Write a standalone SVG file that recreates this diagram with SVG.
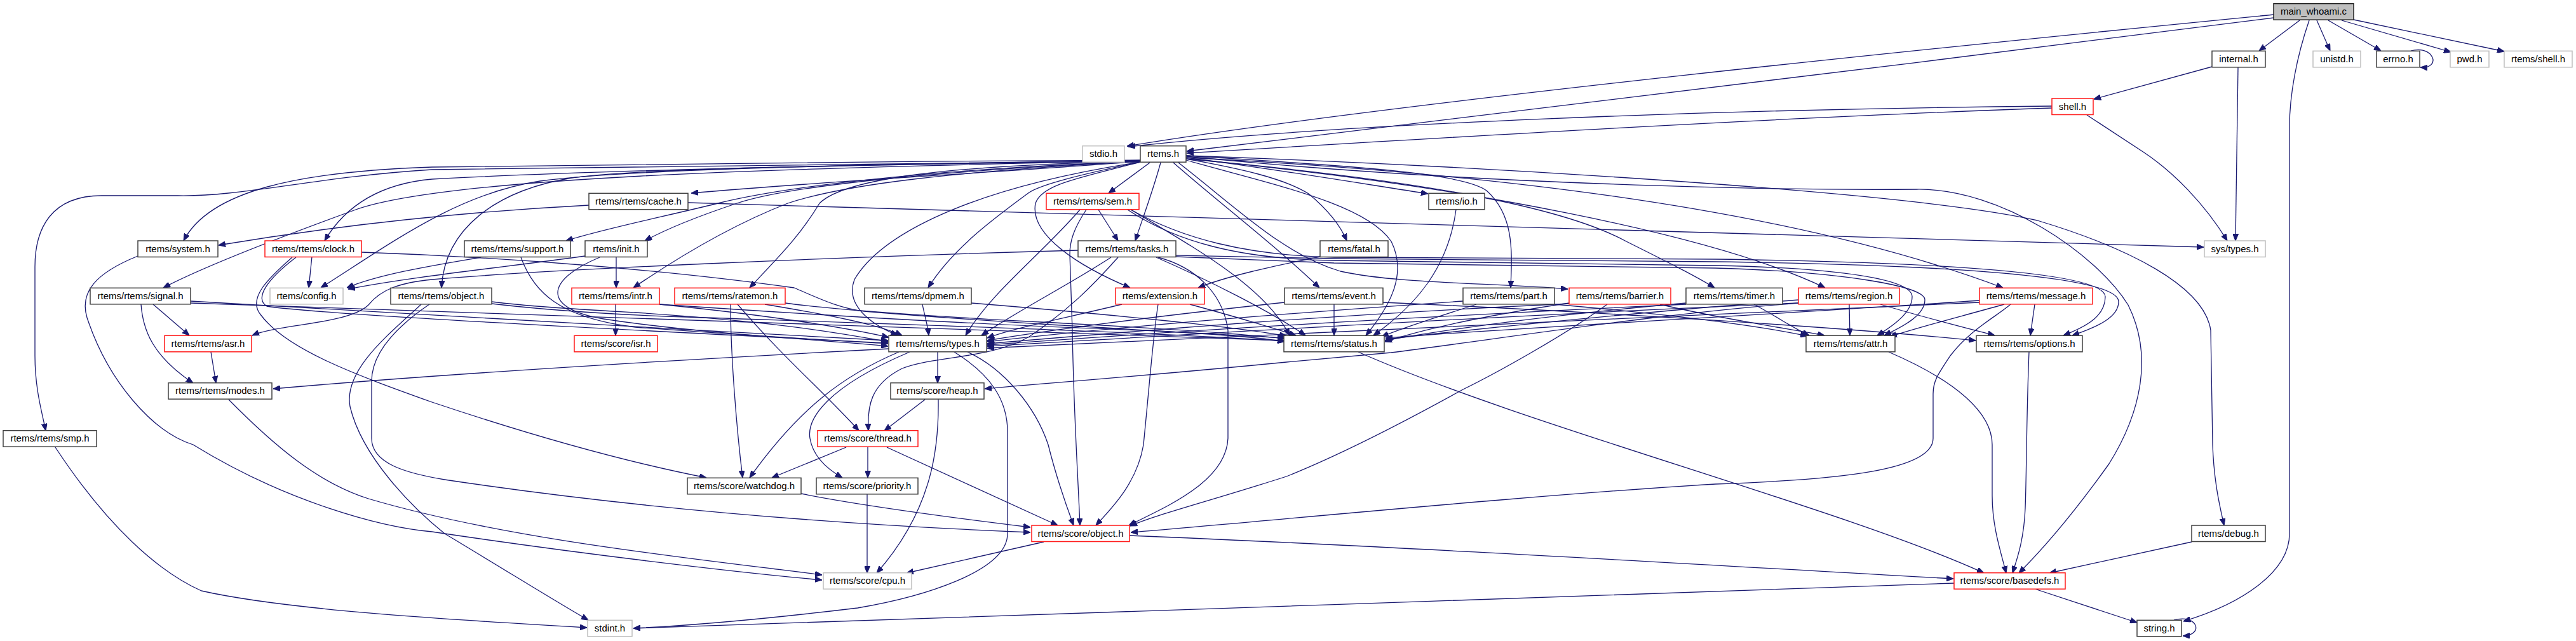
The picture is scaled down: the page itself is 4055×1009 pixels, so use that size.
<svg xmlns="http://www.w3.org/2000/svg" width="4055" height="1009" viewBox="0 0 4055 1009">
<style>
.n rect{fill:#fff;stroke:#404040;stroke-width:1.5}
.n.r rect{stroke:#ff1a1a}
.n.g rect{stroke:#bfbfbf}
.n.m rect{fill:#bfbfbf;stroke:#202020}
.n text{font-family:"Liberation Sans",Arial,sans-serif;font-size:15px;fill:#000;text-anchor:middle}
.e path{fill:none;stroke:#191970;stroke-width:1.3;marker-end:url(#a)}
</style>
<defs>
<marker id="a" viewBox="0 0 10 8" refX="10" refY="4" markerWidth="11" markerHeight="9" markerUnits="userSpaceOnUse" orient="auto"><path d="M0,0 L10,4 L0,8 z" fill="#191970" stroke="#191970" stroke-width="1"/></marker>
</defs>
<rect width="4055" height="1009" fill="#fff"/>
<g id="edges" class="e">
<path d="M3579,23 C3100,70 2200,160 1774,230"/>
<path d="M3579,28 C3000,100 2300,190 1868,238"/>
<path d="M3620,32 L3556,80"/>
<path d="M3647,32 L3668,80"/>
<path d="M3665,32 L3748,80"/>
<path d="M3686,32 L3858,82"/>
<path d="M3705,31 L3942,81"/>
<path d="M3635,32 C3615,90 3604,150 3604,200 L3604,840 C3604,900 3530,950 3437,978"/>
<path d="M3795,80 C3830,70 3845,108 3810,106"/>
<path d="M3482,105 L3296,156"/>
<path d="M3523,106 L3519,379"/>
<path d="M3230,167 C2700,172 2100,195 1776,231"/>
<path d="M3230,170 C2800,185 2300,215 1868,241"/>
<path d="M3285,181 L3375,240 C3420,270 3470,320 3506,379"/>
<path d="M1795,252 C1400,254 900,258 680,263 C470,270 330,300 289,379"/>
<path d="M1795,253 C1300,260 900,270 680,282 C590,290 540,330 511,379"/>
<path d="M1795,253 C1200,265 700,280 560,330 C450,370 320,420 257,453"/>
<path d="M1795,254 C1600,270 1300,285 1088,304"/>
<path d="M1795,254 C1500,265 1250,290 1130,320 C1050,340 950,360 891,379"/>
<path d="M1795,254 C1500,268 1250,290 1160,320 C1100,340 1050,360 1015,379"/>
<path d="M1795,254 C1500,270 1330,290 1240,320 C1150,355 1060,410 997,453"/>
<path d="M1795,254 C1500,260 1330,280 1290,320 C1260,370 1230,400 1180,453"/>
<path d="M1795,253 C1400,258 1000,265 900,280 C780,300 700,360 695,453"/>
<path d="M1795,253 C1400,258 1000,265 850,285 C720,305 620,380 505,453"/>
<path d="M1795,253 C1300,258 900,262 680,267 C500,278 380,310 280,308 L160,308 C80,308 55,360 55,420 L55,560 C55,610 65,645 72,678"/>
<path d="M1810,256 L1745,304"/>
<path d="M1827,256 C1815,300 1800,340 1787,379"/>
<path d="M1795,255 C1700,275 1640,290 1620,303 C1570,340 1500,390 1461,453"/>
<path d="M1795,255 C1700,280 1640,290 1630,320 C1620,370 1700,420 1779,453"/>
<path d="M1867,250 C1950,265 2020,280 2060,305 C2090,330 2110,355 2120,379"/>
<path d="M1867,248 C2000,265 2150,290 2248,305"/>
<path d="M1847,256 C1920,320 2000,380 2077,453"/>
<path d="M1867,245 C2100,260 2300,270 2340,300 C2385,340 2380,400 2378,453"/>
<path d="M1855,256 C1950,330 2020,400 2110,427 C2200,447 2350,445 2468,455"/>
<path d="M1867,250 C2200,280 2450,320 2560,380 C2630,415 2670,435 2699,453"/>
<path d="M1867,250 C2300,290 2700,370 2873,453"/>
<path d="M1867,248 C2300,270 2800,320 3153,453"/>
<path d="M1867,245 C2300,260 3000,300 3207,347 C3350,390 3470,450 3480,520 L3483,700 C3485,760 3495,800 3501,827"/>
<path d="M1867,246 C2300,290 2800,300 3017,298 C3150,296 3300,400 3350,480 C3390,560 3370,650 3320,730 C3270,800 3220,860 3178,902"/>
<path d="M1867,252 C2000,290 2150,320 2190,380 C2215,430 2190,480 2150,528"/>
<path d="M1795,255 C1500,300 1380,380 1345,440 C1330,480 1370,510 1413,528"/>
<path d="M927,323 C700,335 500,360 344,386"/>
<path d="M1083,319 L3469,389"/>
<path d="M1729,330 L1760,379"/>
<path d="M1710,330 C1690,360 1684,380 1684,400 L1688,520 C1690,650 1697,750 1700,827"/>
<path d="M1700,330 C1640,400 1560,460 1520,528"/>
<path d="M1780,330 C1880,390 1990,450 2030,528"/>
<path d="M1775,330 C1850,380 1950,408 2100,410 L2700,418 C2900,422 3010,440 3010,467 C3010,490 2985,510 2955,528"/>
<path d="M1780,330 C1860,375 1960,402 2100,405 L2700,408 C3000,412 3314,425 3314,467 C3314,495 3290,512 3248,528"/>
<path d="M1697,394 C1300,405 850,425 680,440 C630,445 600,455 580,480 C550,510 440,510 397,528"/>
<path d="M1749,405 C1680,450 1600,490 1545,528"/>
<path d="M1820,405 C1900,440 2000,490 2055,528"/>
<path d="M1760,405 C1720,450 1680,490 1620,530 C1560,565 1470,560 1420,580 C1370,605 1365,640 1367,678"/>
<path d="M1823,405 C1880,420 1925,460 1933,520 L1933,690 C1930,760 1830,800 1777,827"/>
<path d="M1851,404 C1950,408 2050,412 2100,414 L2700,422 C2900,428 3030,450 3030,472 C3030,495 3000,512 2966,528"/>
<path d="M1851,402 C1950,404 2050,406 2100,407 L2700,412 C3000,416 3335,430 3335,475 C3335,500 3300,515 3262,528"/>
<path d="M491,404 L486,453"/>
<path d="M460,405 C420,440 390,470 410,495 C450,550 560,590 680,633 C850,690 1000,730 1112,752"/>
<path d="M466,405 C420,440 400,470 420,482 C500,495 1000,520 1398,540"/>
<path d="M569,397 C800,405 1050,425 1250,453 C1290,470 1320,485 1360,490 C1600,510 1850,522 2022,532"/>
<path d="M757,405 C700,415 600,430 546,453"/>
<path d="M820,405 C840,460 880,500 1000,515 C1200,530 1300,535 1398,541"/>
<path d="M921,403 C800,420 650,435 548,455"/>
<path d="M970,404 L970,453"/>
<path d="M944,405 C860,440 850,485 950,502 C1100,525 1300,535 1398,545"/>
<path d="M2078,404 C2000,420 1930,435 1886,453"/>
<path d="M241,479 L298,528"/>
<path d="M222,479 C225,520 240,560 304,603"/>
<path d="M300,474 C500,486 1000,515 1398,536"/>
<path d="M300,477 C600,492 1500,515 2022,536"/>
<path d="M676,479 C660,490 585,540 585,600 L585,690 C585,730 640,745 700,755 C1000,800 1300,825 1622,838"/>
<path d="M663,479 C620,520 540,580 551,640 C570,720 650,800 700,840 C800,900 880,950 926,976"/>
<path d="M774,475 C830,482 900,486 1000,492 C1200,505 1300,520 1398,538"/>
<path d="M774,478 C850,487 950,494 1050,498 C1400,510 1800,522 2022,537"/>
<path d="M969,479 L969,528"/>
<path d="M1038,479 C1200,495 1330,515 1399,531"/>
<path d="M1038,479 C1200,490 1500,510 1800,520 C1900,525 1980,530 2022,538"/>
<path d="M1150,479 C1150,560 1160,680 1169,752"/>
<path d="M1161,479 C1230,560 1300,620 1352,678"/>
<path d="M1204,479 C1300,495 1380,510 1420,528"/>
<path d="M1236,477 C1300,486 1400,494 1600,505 C1800,515 1950,525 2022,533"/>
<path d="M1452,479 C1455,495 1460,510 1462,528"/>
<path d="M1529,477 C1750,495 1950,515 2025,529"/>
<path d="M1823,479 C1815,530 1810,600 1800,700 C1790,760 1750,800 1725,827"/>
<path d="M1766,479 C1680,500 1600,515 1554,532"/>
<path d="M1873,479 C1950,500 2000,515 2040,528"/>
<path d="M2100,479 L2100,528"/>
<path d="M2022,476 C1800,500 1650,520 1554,536"/>
<path d="M2177,476 C2500,490 2900,515 3110,536"/>
<path d="M2447,479 C2650,497 2780,515 2845,529"/>
<path d="M2324,479 C2260,500 2210,515 2175,530"/>
<path d="M2303,474 C2000,495 1750,515 1554,538"/>
<path d="M2530,479 C2460,530 2350,590 2303,613 C2200,670 2100,720 2025,750 C1900,790 1820,810 1779,828"/>
<path d="M2613,479 C2700,500 2800,515 2872,528"/>
<path d="M2470,477 C2350,495 2250,515 2180,538"/>
<path d="M2470,478 C2100,495 1800,520 1554,541"/>
<path d="M2654,477 C2450,495 2300,515 2180,536"/>
<path d="M2654,479 C2200,500 1800,525 1554,543"/>
<path d="M2761,479 C2800,500 2820,515 2848,528"/>
<path d="M2911,479 L2912,528"/>
<path d="M2960,479 C3030,500 3090,515 3140,528"/>
<path d="M2831,477 C2600,495 2350,535 2190,555 L2025,570 C1800,592 1650,603 1550,612"/>
<path d="M2831,472 C2600,490 2350,515 2181,534"/>
<path d="M2831,477 C2300,500 1900,525 1554,545"/>
<path d="M3155,479 C3080,500 3020,515 2975,530"/>
<path d="M3203,479 L3196,528"/>
<path d="M3165,479 C3140,500 3100,520 3070,560 C3050,590 3043,600 3043,620 L3043,690 C3043,740 2900,755 2700,762 C2400,780 2000,820 1780,838"/>
<path d="M3116,473 C2800,495 2400,515 2181,532"/>
<path d="M3116,476 C2600,500 2000,525 1554,548"/>
<path d="M2292,330 C2280,420 2230,480 2162,528"/>
<path d="M332,554 L340,603"/>
<path d="M1399,549 C1000,570 680,590 430,612"/>
<path d="M1476,554 L1476,603"/>
<path d="M1415,554 C1330,590 1260,640 1180,752"/>
<path d="M1432,554 C1300,610 1270,660 1275,690 C1280,720 1305,740 1326,752"/>
<path d="M1523,554 C1580,580 1630,640 1650,700 C1665,760 1680,800 1690,827"/>
<path d="M1502,554 C1560,590 1586,630 1586,680 L1586,840 C1586,900 1450,940 1350,957 C1200,975 1080,985 997,989"/>
<path d="M1456,629 L1392,678"/>
<path d="M1477,629 C1478,700 1470,800 1380,902"/>
<path d="M1366,704 L1366,752"/>
<path d="M1332,704 L1215,752"/>
<path d="M1396,704 L1665,827"/>
<path d="M1261,777 C1350,795 1500,815 1622,830"/>
<path d="M1365,778 L1365,902"/>
<path d="M1643,853 L1427,902"/>
<path d="M1778,843 C2200,860 2700,890 3075,911"/>
<path d="M360,629 C430,700 500,760 580,785 C800,850 1100,880 1294,905"/>
<path d="M217,403 C150,430 125,460 137,500 C170,600 240,680 304,700 C450,790 600,830 680,837 C900,870 1150,900 1294,913"/>
<path d="M87,704 C170,830 250,900 317,930 C450,960 700,975 924,988"/>
<path d="M3450,853 C3350,875 3280,890 3226,902"/>
<path d="M2973,554 C3080,600 3136,650 3136,700 L3136,780 C3136,830 3150,870 3158,902"/>
<path d="M3194,554 C3190,650 3190,750 3188,800 C3186,850 3175,880 3168,902"/>
<path d="M2138,554 C2400,670 2900,800 3123,902"/>
<path d="M3076,918 C2500,940 1500,970 997,989"/>
<path d="M3203,927 L3364,980"/>
<path d="M3422,976 C3460,966 3470,1000 3436,1001"/>
</g>
<g id="n_main" class="n m"><rect x="3579" y="5.7" width="126" height="25.5"/><text x="3642" y="23.4">main_whoami.c</text></g>
<g id="n_internal" class="n"><rect x="3482" y="80.3" width="84" height="25.5"/><text x="3524" y="98">internal.h</text></g>
<g id="n_unistd" class="n g"><rect x="3641" y="80.3" width="75" height="25.5"/><text x="3678.5" y="98">unistd.h</text></g>
<g id="n_errno" class="n"><rect x="3741" y="80.3" width="68" height="25.5"/><text x="3775" y="98">errno.h</text></g>
<g id="n_pwd" class="n g"><rect x="3857" y="80.3" width="61" height="25.5"/><text x="3887.5" y="98">pwd.h</text></g>
<g id="n_rshell" class="n g"><rect x="3942" y="80.3" width="107" height="25.5"/><text x="3995.5" y="98">rtems/shell.h</text></g>
<g id="n_shell" class="n r"><rect x="3230" y="155" width="65" height="25.5"/><text x="3262.5" y="172.7">shell.h</text></g>
<g id="n_stdio" class="n g"><rect x="1704" y="229.7" width="66" height="25.5"/><text x="1737" y="247.4">stdio.h</text></g>
<g id="n_rtems" class="n"><rect x="1795" y="229.7" width="72" height="25.5"/><text x="1831" y="247.4">rtems.h</text></g>
<g id="n_cache" class="n"><rect x="927" y="304.3" width="156" height="25.5"/><text x="1005" y="322">rtems/rtems/cache.h</text></g>
<g id="n_sem" class="n r"><rect x="1647" y="304.3" width="146" height="25.5"/><text x="1720" y="322">rtems/rtems/sem.h</text></g>
<g id="n_io" class="n"><rect x="2249" y="304.3" width="88" height="25.5"/><text x="2293" y="322">rtems/io.h</text></g>
<g id="n_system" class="n"><rect x="217" y="379" width="126" height="25.5"/><text x="280" y="396.7">rtems/system.h</text></g>
<g id="n_clock" class="n r"><rect x="417" y="379" width="152" height="25.5"/><text x="493" y="396.7">rtems/rtems/clock.h</text></g>
<g id="n_support" class="n"><rect x="731" y="379" width="167" height="25.5"/><text x="814.5" y="396.7">rtems/rtems/support.h</text></g>
<g id="n_init" class="n"><rect x="921" y="379" width="98" height="25.5"/><text x="970" y="396.7">rtems/init.h</text></g>
<g id="n_tasks" class="n"><rect x="1697" y="379" width="154" height="25.5"/><text x="1774" y="396.7">rtems/rtems/tasks.h</text></g>
<g id="n_fatal" class="n"><rect x="2078" y="379" width="107" height="25.5"/><text x="2131.5" y="396.7">rtems/fatal.h</text></g>
<g id="n_systypes" class="n g"><rect x="3470" y="379" width="96" height="25.5"/><text x="3518" y="396.7">sys/types.h</text></g>
<g id="n_signal" class="n"><rect x="142" y="453.3" width="158" height="25.5"/><text x="221" y="471">rtems/rtems/signal.h</text></g>
<g id="n_config" class="n g"><rect x="425" y="453.3" width="115" height="25.5"/><text x="482.5" y="471">rtems/config.h</text></g>
<g id="n_object" class="n"><rect x="615" y="453.3" width="159" height="25.5"/><text x="694.5" y="471">rtems/rtems/object.h</text></g>
<g id="n_intr" class="n r"><rect x="900" y="453.3" width="138" height="25.5"/><text x="969" y="471">rtems/rtems/intr.h</text></g>
<g id="n_ratemon" class="n r"><rect x="1062" y="453.3" width="174" height="25.5"/><text x="1149" y="471">rtems/rtems/ratemon.h</text></g>
<g id="n_dpmem" class="n"><rect x="1361" y="453.3" width="168" height="25.5"/><text x="1445" y="471">rtems/rtems/dpmem.h</text></g>
<g id="n_extension" class="n r"><rect x="1756" y="453.3" width="140" height="25.5"/><text x="1826" y="471">rtems/extension.h</text></g>
<g id="n_event" class="n"><rect x="2022" y="453.3" width="155" height="25.5"/><text x="2099.5" y="471">rtems/rtems/event.h</text></g>
<g id="n_part" class="n"><rect x="2303" y="453.3" width="144" height="25.5"/><text x="2375" y="471">rtems/rtems/part.h</text></g>
<g id="n_barrier" class="n r"><rect x="2470" y="453.3" width="160" height="25.5"/><text x="2550" y="471">rtems/rtems/barrier.h</text></g>
<g id="n_timer" class="n"><rect x="2654" y="453.3" width="152" height="25.5"/><text x="2730" y="471">rtems/rtems/timer.h</text></g>
<g id="n_region" class="n r"><rect x="2831" y="453.3" width="159" height="25.5"/><text x="2910.5" y="471">rtems/rtems/region.h</text></g>
<g id="n_message" class="n r"><rect x="3116" y="453.3" width="178" height="25.5"/><text x="3205" y="471">rtems/rtems/message.h</text></g>
<g id="n_asr" class="n r"><rect x="259" y="528.3" width="137" height="25.5"/><text x="327.5" y="546">rtems/rtems/asr.h</text></g>
<g id="n_isr" class="n r"><rect x="904" y="528.3" width="131" height="25.5"/><text x="969.5" y="546">rtems/score/isr.h</text></g>
<g id="n_types" class="n"><rect x="1399" y="528.3" width="154" height="25.5"/><text x="1476" y="546">rtems/rtems/types.h</text></g>
<g id="n_status" class="n"><rect x="2021" y="528.3" width="158" height="25.5"/><text x="2100" y="546">rtems/rtems/status.h</text></g>
<g id="n_attr" class="n"><rect x="2843" y="528.3" width="140" height="25.5"/><text x="2913" y="546">rtems/rtems/attr.h</text></g>
<g id="n_options" class="n"><rect x="3111" y="528.3" width="167" height="25.5"/><text x="3194.5" y="546">rtems/rtems/options.h</text></g>
<g id="n_modes" class="n"><rect x="265" y="602.7" width="163" height="25.5"/><text x="346.5" y="620.4">rtems/rtems/modes.h</text></g>
<g id="n_heap" class="n"><rect x="1402" y="602.7" width="147" height="25.5"/><text x="1475.5" y="620.4">rtems/score/heap.h</text></g>
<g id="n_smp" class="n"><rect x="5" y="677.7" width="147" height="25.5"/><text x="78.5" y="695.4">rtems/rtems/smp.h</text></g>
<g id="n_thread" class="n r"><rect x="1287" y="677.7" width="158" height="25.5"/><text x="1366" y="695.4">rtems/score/thread.h</text></g>
<g id="n_watchdog" class="n"><rect x="1082" y="752.3" width="179" height="25.5"/><text x="1171.5" y="770">rtems/score/watchdog.h</text></g>
<g id="n_priority" class="n"><rect x="1285" y="752.3" width="160" height="25.5"/><text x="1365" y="770">rtems/score/priority.h</text></g>
<g id="n_sobject" class="n r"><rect x="1624" y="827" width="154" height="25.5"/><text x="1701" y="844.7">rtems/score/object.h</text></g>
<g id="n_debug" class="n"><rect x="3450" y="827" width="116" height="25.5"/><text x="3508" y="844.7">rtems/debug.h</text></g>
<g id="n_cpu" class="n g"><rect x="1296" y="901.7" width="139" height="25.5"/><text x="1365.5" y="919.4">rtems/score/cpu.h</text></g>
<g id="n_basedefs" class="n r"><rect x="3076" y="901.7" width="175" height="25.5"/><text x="3163.5" y="919.4">rtems/score/basedefs.h</text></g>
<g id="n_stdint" class="n g"><rect x="925" y="976.3" width="70" height="25.5"/><text x="960" y="994">stdint.h</text></g>
<g id="n_string" class="n"><rect x="3364" y="976.3" width="70" height="25.5"/><text x="3399" y="994">string.h</text></g>
</svg>
